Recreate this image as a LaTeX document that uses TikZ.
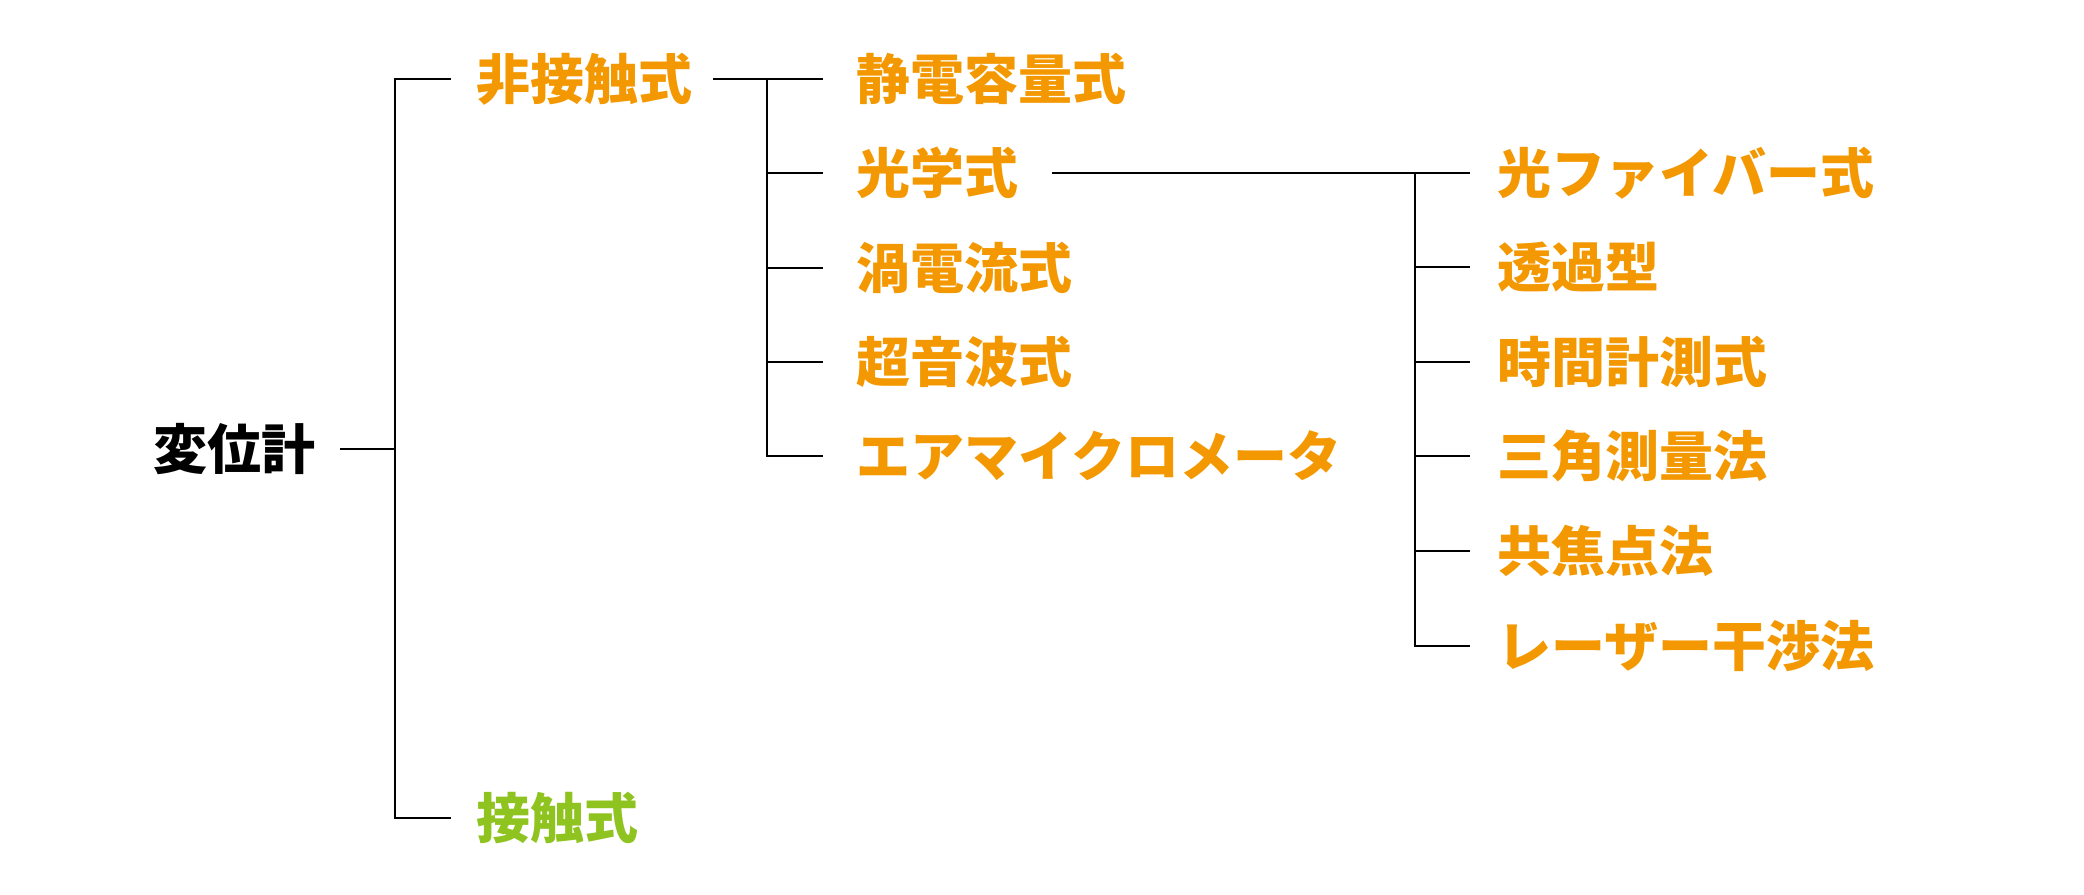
\documentclass[tikz,border=0pt]{standalone}
\usepackage{fontspec}
\newfontfamily\jp{Noto Sans CJK JP}
\definecolor{orng}{HTML}{F39800}
\definecolor{grn}{HTML}{8FC31F}
\begin{document}
\begin{tikzpicture}[x=1pt,y=-1pt,
  lbl/.style={anchor=west,inner sep=0pt,font=\jp\bfseries\fontsize{54}{60}\selectfont},
  olbl/.style={lbl,text=orng},
  glbl/.style={lbl,text=grn},
  conn/.style={draw=black,line width=1.5pt}]
\useasboundingbox[fill=white] (0,0) rectangle (2084,894);
% level 0 and 1
\node[lbl]  (root) at (153,449) {変位計};
\node[olbl] (nc)   at (476,79)  {非接触式};
\node[glbl] (c)    at (476,818) {接触式};
% level 2
\node[olbl] (l2a) at (856,79)  {静電容量式};
\node[olbl] (l2b) at (856,173) {光学式};
\node[olbl] (l2c) at (856,268) {渦電流式};
\node[olbl] (l2d) at (856,362) {超音波式};
\node[olbl] (l2e) at (856,456) {エアマイクロメータ};
% level 3
\node[olbl] (l3a) at (1497,173) {光ファイバー式};
\node[olbl] (l3b) at (1497,267) {透過型};
\node[olbl] (l3c) at (1497,362) {時間計測式};
\node[olbl] (l3d) at (1497,456) {三角測量法};
\node[olbl] (l3e) at (1497,551) {共焦点法};
\node[olbl] (l3f) at (1497,646) {レーザー干渉法};
% spines
\coordinate (s1) at (395,0);
\coordinate (s2) at (767,0);
\coordinate (s3) at (1415,0);
% level 0 -> 1
\draw[conn] ([xshift=25pt]root.east) -- (s1 |- root.east);
\draw[conn] ([xshift=-25pt]nc.west) -| (s1 |- c.west) -- ([xshift=-25pt]c.west);
% level 1 -> 2
\draw[conn] ([xshift=21pt]nc.east) -- ([xshift=-33pt]l2a.west);
\draw[conn] (s2 |- l2a.west) |- ([xshift=-33pt]l2e.west);
\foreach \n in {l2b,l2c,l2d}
  \draw[conn] (s2 |- \n.west) -- ([xshift=-33pt]\n.west);
% level 2 -> 3
\draw[conn,yshift=4pt] ([xshift=34pt]l2b.east) -- ([xshift=-27pt]l3a.west);
\draw[conn,yshift=4pt] (s3 |- l3a.west) |- ([xshift=-27pt]l3f.west);
\foreach \n in {l3b,l3c,l3d,l3e}
  \draw[conn,yshift=4pt] (s3 |- \n.west) -- ([xshift=-27pt]\n.west);
\end{tikzpicture}
\end{document}
